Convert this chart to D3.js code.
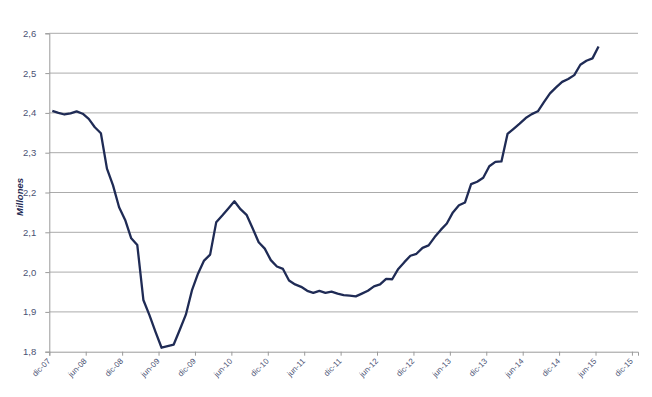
<!DOCTYPE html>
<html>
<head>
<meta charset="utf-8">
<script src="https://cdn.jsdelivr.net/npm/d3@7"></script>
<style>
  body { margin: 0; background: #fff; }
  svg { display: block; font-family: 'Liberation Sans', Arial, sans-serif; }
</style>
</head>
<body>
<svg id="chart" width="652" height="397"></svg>
<script>
// + -- data: monthly values, dic-07 .. jun-15 (millions) --------------------- +
const values = [
  2.405, 2.400, 2.396, 2.399, 2.404, 2.398, 2.385, 2.364, 2.349, 2.260,
  2.218, 2.163, 2.131, 2.085, 2.068, 1.930, 1.892, 1.850, 1.810, 1.814,
  1.818, 1.855, 1.893, 1.954, 1.996, 2.029, 2.044, 2.125, 2.142, 2.160,
  2.178, 2.158, 2.144, 2.110, 2.075, 2.059, 2.030, 2.014, 2.008, 1.979,
  1.969, 1.963, 1.953, 1.948, 1.953, 1.948, 1.951, 1.946, 1.942, 1.941,
  1.939, 1.946, 1.953, 1.964, 1.969, 1.983, 1.982, 2.008, 2.025, 2.041,
  2.046, 2.061, 2.067, 2.088, 2.106, 2.122, 2.150, 2.168, 2.175, 2.221,
  2.227, 2.237, 2.266, 2.277, 2.278, 2.347, 2.360, 2.373, 2.387, 2.397,
  2.404, 2.427, 2.449, 2.464, 2.478, 2.485, 2.495, 2.521, 2.531, 2.537,
  2.567
]
const tick_labels = ['dic-07', 'jun-08', 'dic-08', 'jun-09', 'dic-09', 'jun-10', 'dic-10', 'jun-11',
  'dic-11', 'jun-12', 'dic-12', 'jun-13', 'dic-13', 'jun-14', 'dic-14', 'jun-15', 'dic-15']
const y_ticks = [1.8, 1.9, 2.0, 2.1, 2.2, 2.3, 2.4, 2.5, 2.6]
const n_months = 97 // dic-07 .. dic-15 slots on the axis

const margin = {left: 49.3, right: 14, top: 33.3, bottom: 45.3}
const W = 652, H = 397

const svg = d3.select('#chart')

const x = d3.scaleLinear()
  .domain([0, n_months])
  .range([margin.left, W - margin.right])
const y = d3.scaleLinear()
  .domain([1.8, 2.6])
  .range([H - margin.bottom, margin.top])

const fmt = d => d3.format('.1f')(d).replace('.', ',')

// gridlines
svg.append('g')
  .selectAll('line')
  .data(y_ticks.slice(1))
  .join('line')
  .attr('x1', margin.left)
  .attr('x2', W - margin.right)
  .attr('y1', d => y(d))
  .attr('y2', d => y(d))
  .attr('stroke', '#ababab')
  .attr('stroke-width', 1)

// y axis
const yAxis = svg.append('g')
  .attr('transform', 'translate(' + margin.left + ',0)')
  .call(d3.axisLeft(y).tickValues(y_ticks).tickFormat(fmt).tickSize(4).tickPadding(9))
yAxis.select('.domain').attr('stroke', '#9a9a9a')
yAxis.selectAll('.tick line').attr('stroke', '#9a9a9a')
yAxis.selectAll('text')
  .attr('fill', '#4a5273')
  .style('font-size', '9.5px')

// x axis
const xAxis = svg.append('g')
  .attr('transform', 'translate(0,' + y(1.8) + ')')
  .call(d3.axisBottom(x)
    .tickValues(tick_labels.map((d, i) => i * 6))
    .tickFormat((d, i) => tick_labels[i])
    .tickSize(4))
xAxis.select('.domain').attr('stroke', '#9a9a9a')
xAxis.selectAll('.tick line').attr('stroke', '#9a9a9a')
xAxis.selectAll('text')
  .attr('fill', '#4a5273')
  .style('font-size', '8px')
  .attr('text-anchor', 'end')
  .attr('dy', 0)
  .attr('y', 0)
  .attr('transform', 'translate(1,10) rotate(-45)')

// y axis title
svg.append('text')
  .text('Millones')
  .attr('transform', 'translate(23,197) rotate(-90)')
  .attr('text-anchor', 'middle')
  .attr('font-style', 'italic')
  .attr('font-weight', 700)
  .style('font-size', '9.5px')
  .attr('fill', '#1f2b55')

// the series
const line = d3.line()
  .x((d, i) => x(i + 0.5))
  .y(d => y(d))

svg.append('path')
  .datum(values)
  .attr('d', line)
  .attr('fill', 'none')
  .attr('stroke', '#1f2b55')
  .attr('stroke-width', 2.3)
  .attr('stroke-linejoin', 'round')
</script>
</body>
</html>
